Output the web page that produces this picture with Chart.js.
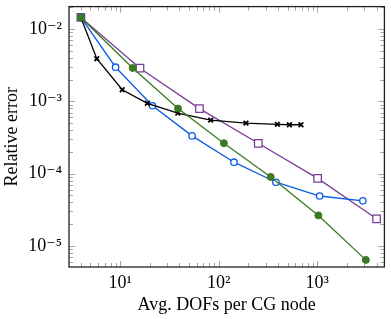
<!DOCTYPE html>
<html>
<head>
<meta charset="utf-8">
<script src="https://cdn.jsdelivr.net/npm/chart.js@4/dist/chart.umd.min.js"></script>
<style>
  html, body { margin: 0; padding: 0; background: #fff; }
  #wrap { width: 391px; height: 319px; }
</style>
</head>
<body>
<div id="wrap"><canvas id="c" width="391" height="319"></canvas></div>
<script>
// ---- data ----
const blackX  = [4, 5.8, 10.5, 18.9, 38.5, 83, 189, 394, 522, 684];
const blackY  = [0.0145, 3.9e-3, 1.45e-3, 9.4e-4, 6.9e-4, 5.5e-4, 5.0e-4, 4.8e-4, 4.75e-4, 4.75e-4];
const blueX   = [4, 9, 21.3, 53.7, 143, 381, 1057, 2900];
const blueY   = [0.0145, 2.97e-3, 8.7e-4, 3.33e-4, 1.44e-4, 7.6e-5, 4.9e-5, 4.2e-5];
const greenX  = [4, 13.4, 38.7, 113, 337, 1026, 3110];
const greenY  = [0.0145, 2.9e-3, 7.96e-4, 2.64e-4, 9.0e-5, 2.64e-5, 6.4e-6];
const purpleX = [4, 15.9, 63.8, 252, 1009, 4000];
const purpleY = [0.0145, 2.88e-3, 7.94e-4, 2.63e-4, 8.6e-5, 2.37e-5];

const xTitle = 'Avg. DOFs per CG node';
const yTitle = 'Relative error';
const xRange = [3.03, 4800];
const yRange = [5.1e-6, 0.0205];

const sup = {'-':'\u207B','0':'\u2070','1':'\u00B9','2':'\u00B2','3':'\u00B3','4':'\u2074','5':'\u2075','6':'\u2076','7':'\u2077','8':'\u2078','9':'\u2079'};
function powLabel(v) {
  const e = Math.log10(v);
  const r = Math.round(e);
  if (Math.abs(e - r) > 1e-9) return '';
  return '10' + String(r).split('').map(c => sup[c]).join('');
}
function pts(xs, ys) { return xs.map((x, i) => ({x: x, y: ys[i]})); }

const FONT = "'Liberation Serif', 'DejaVu Serif', serif";

const framePlugin = {
  id: 'frame',
  afterDatasetsDraw(chart) {
    const ctx = chart.ctx, a = chart.chartArea;
    const xs = chart.scales.x, ys = chart.scales.y;
    ctx.save();
    ctx.strokeStyle = '#9a9a9a';
    ctx.lineWidth = 0.9;
    function decadeVals(min, max) {
      const out = [];
      for (let e = Math.floor(Math.log10(min)); e <= Math.ceil(Math.log10(max)); e++) {
        for (let m = 1; m <= 9; m++) {
          const v = m * Math.pow(10, e);
          if (v > min && v < max) out.push({v: v, major: m === 1});
        }
      }
      return out;
    }
    ctx.beginPath();
    decadeVals(xs.min, xs.max).forEach(t => {
      const p = Math.round(xs.getPixelForValue(t.v)) + 0.5;
      const L = t.major ? 6 : 4;
      ctx.moveTo(p, a.bottom); ctx.lineTo(p, a.bottom - L);
      ctx.moveTo(p, a.top); ctx.lineTo(p, a.top + L);
    });
    decadeVals(ys.min, ys.max).forEach(t => {
      const p = Math.round(ys.getPixelForValue(t.v)) + 0.5;
      const L = t.major ? 6 : 4;
      ctx.moveTo(a.left, p); ctx.lineTo(a.left + L, p);
      ctx.moveTo(a.right, p); ctx.lineTo(a.right - L, p);
    });
    ctx.stroke();
    ctx.strokeStyle = '#222';
    ctx.lineWidth = 1.3;
    ctx.strokeRect(a.left, a.top, a.right - a.left, a.bottom - a.top);
    ctx.restore();
  }
};

const lw = 1.3;
// Chart.js draws the first dataset on top: green, black, blue, purple (bottom)
new Chart(document.getElementById('c'), {
  type: 'line',
  data: {
    datasets: [
      { data: pts(greenX, greenY), borderColor: '#3a7a22', backgroundColor: '#3a7a22',
        borderWidth: lw, pointStyle: 'circle', pointRadius: 3.5, pointBorderWidth: 1 },
      { data: pts(blackX, blackY), borderColor: '#000', backgroundColor: '#000',
        borderWidth: lw, pointStyle: 'crossRot', pointRadius: 3.3, pointBorderWidth: 1.8 },
      { data: pts(blueX, blueY), borderColor: '#0a5ae6', backgroundColor: '#ffffff',
        borderWidth: lw, pointStyle: 'circle', pointRadius: 3.2, pointBorderWidth: 1.3 },
      { data: pts(purpleX, purpleY), borderColor: '#7b3d96', backgroundColor: '#ffffff',
        borderWidth: lw, pointStyle: 'rect', pointRadius: 5.3, pointBorderWidth: 1.3 }
    ]
  },
  options: {
    responsive: false,
    animation: false,
    devicePixelRatio: 1,
    layout: { padding: { top: 1, right: 1, left: 0, bottom: 0 } },
    plugins: { legend: { display: false }, tooltip: { enabled: false } },
    elements: { line: { tension: 0, fill: false } },
    scales: {
      x: {
        type: 'logarithmic', min: xRange[0], max: xRange[1],
        grid: { display: false, drawTicks: false },
        border: { display: false },
        ticks: { autoSkip: false, maxRotation: 0, padding: 5, color: '#000',
                 font: { family: FONT, size: 18 }, callback: v => powLabel(v) },
        title: { display: true, text: xTitle, color: '#000',
                 font: { family: FONT, size: 18 }, padding: { top: 2, bottom: 3 } },
        afterFit(s) { s.height = 52; s.paddingLeft = 0; s.paddingRight = 0; }
      },
      y: {
        type: 'logarithmic', min: yRange[0], max: yRange[1],
        grid: { display: false, drawTicks: false },
        border: { display: false },
        ticks: { autoSkip: false, padding: 7, color: '#000',
                 font: { family: FONT, size: 18 }, callback: v => powLabel(v) },
        title: { display: true, text: yTitle, color: '#000',
                 font: { family: FONT, size: 18 }, padding: { top: 1, bottom: 0 } },
        afterFit(s) { s.width = 69; s.paddingTop = 0; s.paddingBottom = 0; }
      }
    }
  },
  plugins: [framePlugin]
});
</script>
</body>
</html>
